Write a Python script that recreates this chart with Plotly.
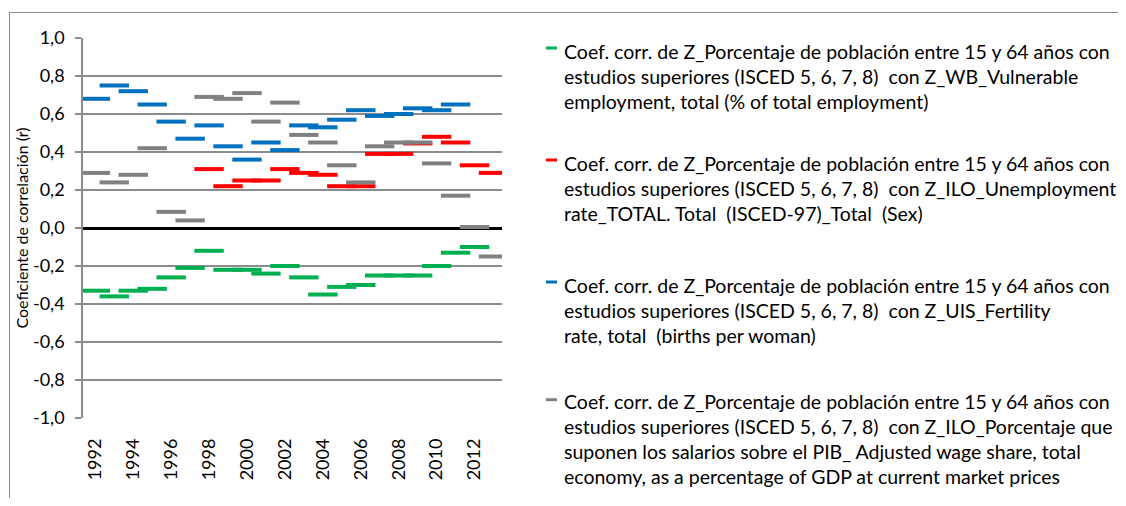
import plotly.graph_objects as go

years = list(range(1992, 2014))

# Coef. corr. with Z_WB_Vulnerable employment (green)
vulnerable = [-0.33, -0.36, -0.33, -0.32, -0.26, -0.21, -0.12, -0.22, -0.22, -0.24, -0.20,
              -0.26, -0.35, -0.31, -0.30, -0.25, -0.25, -0.25, -0.20, -0.13, -0.10, None]
# Coef. corr. with Z_ILO_Unemployment rate (red)
unemployment = [None, None, None, None, None, None, 0.31, 0.22, 0.25, 0.25, 0.31,
                0.29, 0.28, 0.22, 0.22, 0.39, 0.39, 0.445, 0.48, 0.45, 0.33, 0.29]
# Coef. corr. with Z_UIS_Fertility rate (blue)
fertility = [0.68, 0.75, 0.72, 0.65, 0.56, 0.47, 0.54, 0.43, 0.36, 0.45, 0.41,
             0.54, 0.53, 0.57, 0.62, 0.59, 0.60, 0.63, 0.62, 0.65, None, None]
# Coef. corr. with Z_ILO adjusted wage share (grey)
wage_share = [0.29, 0.24, 0.28, 0.42, 0.085, 0.04, 0.69, 0.68, 0.71, 0.56, 0.66,
              0.49, 0.45, 0.33, 0.24, 0.43, 0.45, 0.45, 0.34, 0.17, 0.005, -0.15]

y_tickvals = [-1.0, -0.8, -0.6, -0.4, -0.2, 0.0, 0.2, 0.4, 0.6, 0.8, 1.0]
y_ticktext = ["-1,0", "-0,8", "-0,6", "-0,4", "-0,2", "0,0", "0,2", "0,4", "0,6", "0,8", "1,0"]

base = "Coef. corr. de Z_Porcentaje de población entre 15 y 64 años con"
series = [
    ("vulnerable", vulnerable, "#00B050",
     [base, "estudios superiores (ISCED 5, 6, 7, 8)  con Z_WB_Vulnerable",
      "employment, total (% of total employment)"], 48, [51.7, 76.7, 101.7]),
    ("unemployment", unemployment, "#FF0000",
     [base, "estudios superiores (ISCED 5, 6, 7, 8)  con Z_ILO_Unemployment",
      "rate_TOTAL. Total  (ISCED-97)_Total  (Sex)"], 160, [163, 188, 213]),
    ("fertility", fertility, "#0070C0",
     [base, "estudios superiores (ISCED 5, 6, 7, 8)  con Z_UIS_Fertility",
      "rate, total  (births per woman)"], 282, [285, 310, 335]),
    ("wage", wage_share, "#808080",
     [base, "estudios superiores (ISCED 5, 6, 7, 8)  con Z_ILO_Porcentaje que",
      "suponen los salarios sobre el PIB_ Adjusted wage share, total",
      "economy, as a percentage of GDP at current market prices"], 399.7,
     [401.7, 426.7, 451.7, 476.7]),
]

OFF = 8  # page body margin
W, H = 1126 - 2 * OFF, 506 - 2 * OFF   # keep the page free of scrollbars
# plot area in page pixels: x 83..502, y 38..418
ML, MT = 83 - OFF, 38 - OFF
MR = W - (502 - OFF)
MB = H - (418 - OFF)
PW = W - ML - MR
PH = H - MT - MB


def px_x(p):
    return (p - OFF - ML) / PW


def px_y(p):
    return (H - MB - (p - OFF)) / PH


FONT = "Lato"
fig = go.Figure()
annotations = []
shapes = []
for key, vals, color, lines, mk_y, line_ys in series:
    fig.add_trace(go.Scatter(
        x=years, y=vals, mode="markers", name=" ".join(lines),
        marker=dict(symbol="line-ew", size=21, color=color,
                    line=dict(color=color, width=4)),
        showlegend=False,
    ))
    shapes.append(dict(type="line", xref="paper", yref="paper",
                       x0=px_x(546), x1=px_x(557), y0=px_y(mk_y), y1=px_y(mk_y),
                       line=dict(color=color, width=3)))
    for txt, ly in zip(lines, line_ys):
        annotations.append(dict(text=txt, xref="paper", yref="paper",
                                x=px_x(562), y=px_y(ly), xanchor="left", yanchor="middle",
                                showarrow=False, font=dict(family=FONT, size=19.5, color="black")))

# chart area border (top and left edges visible in the reference)
shapes.append(dict(type="line", xref="paper", yref="paper",
                   x0=px_x(9.5), x1=px_x(1118), y0=px_y(12.5), y1=px_y(12.5),
                   line=dict(color="#8c8c8c", width=1), layer="below"))
shapes.append(dict(type="line", xref="paper", yref="paper",
                   x0=px_x(9.5), x1=px_x(9.5), y0=px_y(12.5), y1=px_y(OFF + H),
                   line=dict(color="#8c8c8c", width=1), layer="below"))

fig.update_layout(
    width=W, height=H,
    margin=dict(l=ML, r=MR, t=MT, b=MB),
    paper_bgcolor="white", plot_bgcolor="white",
    font=dict(family=FONT, size=18, color="black"),
    shapes=shapes, annotations=annotations,
    xaxis=dict(range=[1991.351, 2013.448], tick0=1992, dtick=2, tickangle=-90,
               showgrid=False, zeroline=False, showline=False, ticks="",
               ticklabelstandoff=16, tickfont=dict(family=FONT, size=18)),
    yaxis=dict(range=[-1, 1], tickmode="array", tickvals=y_tickvals, ticktext=y_ticktext,
               showgrid=True, gridcolor="#8c8c8c", gridwidth=1.5,
               zeroline=True, zerolinecolor="black", zerolinewidth=3,
               showline=True, linecolor="#8c8c8c", linewidth=1.5,
               ticks="outside", ticklen=6, tickcolor="#8c8c8c", tickwidth=1.5,
               ticklabelstandoff=7,
               tickfont=dict(family=FONT, size=18),
               title=dict(text="Coeficiente de correlación (r)",
                          font=dict(family=FONT, size=16), standoff=0)),
)

fig.write_html("out.html")
